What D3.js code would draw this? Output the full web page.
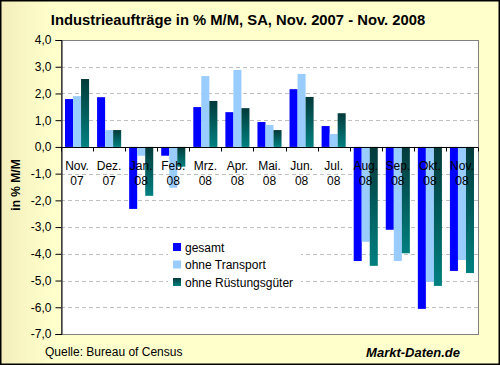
<!DOCTYPE html>
<html lang="de">
<head>
<meta charset="UTF-8">
<title>Industrieaufträge</title>
<script src="https://cdn.jsdelivr.net/npm/d3@7"></script>
<style>
  body { margin: 0; }
  svg { display: block; font-family: "Liberation Sans", Arial, sans-serif; }
</style>
</head>
<body>
<svg width="500" height="365"></svg>
<script>
// data
var months = ["Nov.", "Dez.", "Jan.", "Feb.", "Mrz.", "Apr.", "Mai.", "Jun.", "Jul.", "Aug.", "Sep.", "Okt.", "Nov."];
var years  = ["07", "07", "08", "08", "08", "08", "08", "08", "08", "08", "08", "08", "08"];
var gesamt        = [1.79, 1.86, -2.32, -0.33, 1.49, 1.30, 0.93, 2.16, 0.78, -4.27, -3.10, -6.06, -4.64];
var ohneTransport = [1.90, 0.63, -0.33, -1.53, 2.65, 2.88, 0.82, 2.73, 0.48, -3.55, -4.27, -5.05, -4.23];
var ohneRuestung  = [2.54, 0.63, -1.83, -0.74, 1.72, 1.45, 0.63, 1.87, 1.26, -4.45, -3.98, -5.20, -4.72];
var seriesNames = ["gesamt", "ohne Transport", "ohne Rüstungsgüter"];
var yTicks = [4, 3, 2, 1, 0, -1, -2, -3, -4, -5, -6, -7];

var svg = d3.select("svg");
var defs = svg.append("defs");

var bg = defs.append("linearGradient").attr("id", "bg").attr("x1", 0).attr("x2", 1).attr("y1", 0).attr("y2", 0);
bg.append("stop").attr("offset", "0").attr("stop-color", "#f3eebb");
bg.append("stop").attr("offset", "0.1").attr("stop-color", "#ffffcc");
bg.append("stop").attr("offset", "1").attr("stop-color", "#ffffcc");

var teal = defs.append("linearGradient").attr("id", "teal").attr("x1", 0).attr("x2", 0).attr("y1", 0).attr("y2", 1);
teal.append("stop").attr("offset", "0").attr("stop-color", "#043a3a");
teal.append("stop").attr("offset", "1").attr("stop-color", "#008080");

var colors = ["#0000ff", "#99ccff", "url(#teal)"];

// background
svg.append("rect").attr("x", 0.75).attr("y", 0.75).attr("width", 498.5).attr("height", 363.5)
    .attr("fill", "url(#bg)").attr("stroke", "#000").attr("stroke-width", 1.5);

var pLeft = 61, pRight = 478, pTop = 40, pBottom = 334;

var y = d3.scaleLinear().domain([-7, 4]).range([pBottom, pTop]);
var x = d3.scaleBand().domain(d3.range(months.length)).range([pLeft, pRight]).padding(0);
var xs = d3.scaleBand().domain(d3.range(3)).range([4, x.bandwidth() - 4]).padding(0);

// plot area
svg.append("rect").attr("x", pLeft + 0.5).attr("y", pTop + 0.5).attr("width", pRight - pLeft).attr("height", pBottom - pTop)
    .attr("fill", "#fff").attr("stroke", "#808080").attr("stroke-width", 1);

// grid
svg.append("g").selectAll("line")
    .data(yTicks.filter(function(d) { return d != 0 && d != 4 && d != -7; }))
    .join("line")
    .attr("x1", pLeft).attr("x2", pRight)
    .attr("y1", function(d) { return Math.round(y(d)) + 0.5; })
    .attr("y2", function(d) { return Math.round(y(d)) + 0.5; })
    .attr("stroke", "#c0c0c0").attr("stroke-dasharray", "4,3");

// bars
var allSeries = [gesamt, ohneTransport, ohneRuestung];
var groups = svg.append("g").selectAll("g")
    .data(allSeries)
    .join("g")
    .attr("fill", function(d, i) { return colors[i]; });

groups.selectAll("rect")
    .data(function(d, si) { return d.map(function(v, i) { return {v: v, i: i, s: si}; }); })
    .join("rect")
    .attr("x", function(d) { return x(d.i) + xs(d.s); })
    .attr("width", xs.bandwidth())
    .attr("y", function(d) { return y(Math.max(0, d.v)); })
    .attr("height", function(d) { return Math.abs(y(d.v) - y(0)); });

// legend
var lg = svg.append("g").attr("transform", "translate(168,236)");
lg.append("rect").attr("width", 133).attr("height", 56).attr("fill", "#fff");
var li = lg.selectAll("g.item").data(seriesNames).join("g").attr("class", "item")
    .attr("transform", function(d, i) { return "translate(5," + (11 + i * 17.5) + ")"; });
li.append("rect").attr("x", 0).attr("y", -4).attr("width", 8).attr("height", 8)
    .attr("fill", function(d, i) { return colors[i]; });
li.append("text").attr("x", 12).attr("y", 4.5).attr("font-size", "12px").text(function(d) { return d; });

// y axis
var yAxis = svg.append("g").attr("transform", "translate(" + (pLeft + 0.5) + ",0)")
    .call(d3.axisLeft(y).tickValues(yTicks).tickSize(6).tickPadding(4)
        .tickFormat(function(d) { return d3.format(".1f")(d).replace(".", ",").replace("−", "-"); }));
yAxis.select(".domain").attr("stroke", "#000");
yAxis.selectAll("text").attr("font-size", "12px").attr("font-family", "Liberation Sans, Arial, sans-serif").attr("fill", "#000");

// zero line with category ticks
var zero = Math.round(y(0)) + 0.5;
svg.append("line").attr("x1", pLeft).attr("x2", pRight).attr("y1", zero).attr("y2", zero).attr("stroke", "#000");
svg.append("g").selectAll("line")
    .data(d3.range(months.length + 1))
    .join("line")
    .attr("x1", function(d) { return Math.round(pLeft + d * x.bandwidth()) + 0.5; })
    .attr("x2", function(d) { return Math.round(pLeft + d * x.bandwidth()) + 0.5; })
    .attr("y1", zero).attr("y2", zero + 4)
    .attr("stroke", "#000");

// category labels (two lines)
var cl = svg.append("g").attr("font-size", "12px").attr("text-anchor", "middle");
cl.selectAll("text.m").data(months).join("text").attr("class", "m")
    .attr("x", function(d, i) { return x(i) + x.bandwidth() / 2; })
    .attr("y", 170).text(function(d) { return d; });
cl.selectAll("text.j").data(years).join("text").attr("class", "j")
    .attr("x", function(d, i) { return x(i) + x.bandwidth() / 2; })
    .attr("y", 185).text(function(d) { return d; });

// title
svg.append("text").attr("x", 238).attr("y", 25).attr("text-anchor", "middle")
    .attr("font-size", "14.8px").attr("font-weight", "bold")
    .text("Industrieaufträge in % M/M, SA, Nov. 2007 - Nov. 2008");

// y title
svg.append("text").attr("transform", "translate(20,185) rotate(-90)").attr("text-anchor", "middle")
    .attr("font-size", "12px").attr("font-weight", "bold").text("in % M/M");

// footer
svg.append("text").attr("x", 45).attr("y", 356).attr("font-size", "12px").text("Quelle: Bureau of Census");
svg.append("text").attr("x", 460).attr("y", 357).attr("text-anchor", "end")
    .attr("font-size", "13px").attr("font-weight", "bold").attr("font-style", "italic").text("Markt-Daten.de");
</script>
</body>
</html>
